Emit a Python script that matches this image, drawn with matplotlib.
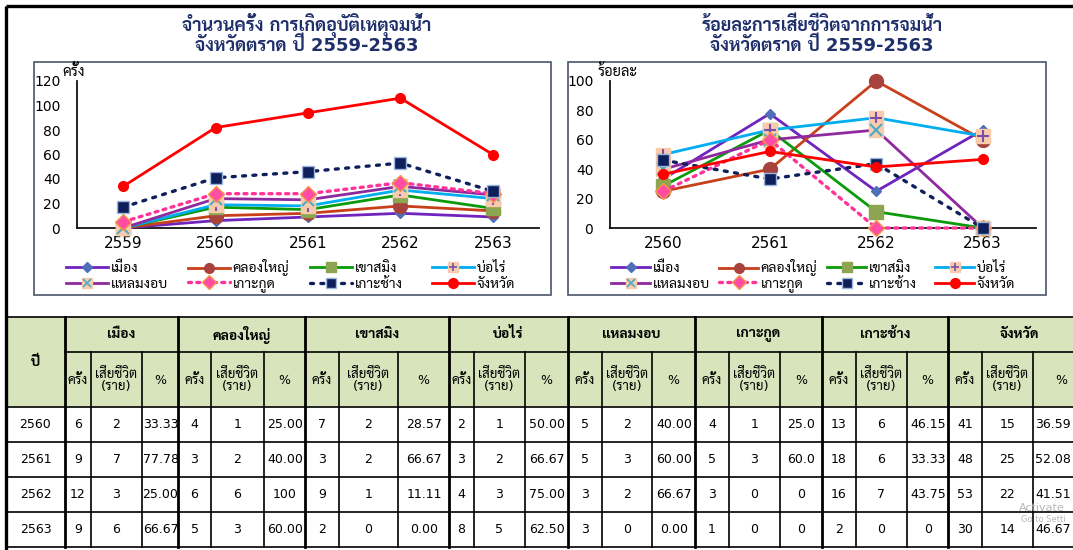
import matplotlib
matplotlib.use("Agg")
import matplotlib.pyplot as plt
from matplotlib import font_manager as fm
from matplotlib.lines import Line2D
from matplotlib.patches import Rectangle
from matplotlib.legend_handler import HandlerTuple
import numpy as np

# ---------------- data ----------------
years_chart1 = ["2559", "2560", "2561", "2562", "2563"]
years_chart2 = ["2560", "2561", "2562", "2563"]
districts = ["เมือง", "คลองใหญ่", "เขาสมิง", "บ่อไร่", "แหลมงอบ", "เกาะกูด", "เกาะช้าง"]
province = "จังหวัด"

# number of incidents per district, 2559-2563
cases_muang = [0, 6, 9, 12, 9]
cases_khlongyai = [0, 4, 3, 6, 5]
cases_khaosaming = [0, 7, 3, 9, 2]
cases_borai = [0, 2, 3, 4, 8]
cases_laemngop = [0, 5, 5, 3, 3]
cases_kohkood = [5, 4, 5, 3, 1]
cases_kohchang = [12, 13, 18, 16, 2]
cases_province = [17, 41, 48, 53, 30]

# deaths per district, 2560-2563
deaths_muang = [2, 7, 3, 6]
deaths_khlongyai = [1, 2, 6, 3]
deaths_khaosaming = [2, 2, 1, 0]
deaths_borai = [1, 2, 3, 5]
deaths_laemngop = [2, 3, 2, 0]
deaths_kohkood = [1, 3, 0, 0]
deaths_kohchang = [6, 6, 7, 0]
deaths_province = [15, 25, 22, 14]

# death percentage per district, 2560-2563 (as printed in the table)
pct_muang = ["33.33", "77.78", "25.00", "66.67"]
pct_khlongyai = ["25.00", "40.00", "100", "60.00"]
pct_khaosaming = ["28.57", "66.67", "11.11", "0.00"]
pct_borai = ["50.00", "66.67", "75.00", "62.50"]
pct_laemngop = ["40.00", "60.00", "66.67", "0.00"]
pct_kohkood = ["25.0", "60.0", "0", "0"]
pct_kohchang = ["46.15", "33.33", "43.75", "0"]
pct_province = ["36.59", "52.08", "41.51", "46.67"]

title1 = ["จำนวนครั้ง การเกิดอุบัติเหตุจมน้ำ", "จังหวัดตราด ปี 2559-2563"]
title2 = ["ร้อยละการเสียชีวิตจากการจมน้ำ", "จังหวัดตราด ปี 2559-2563"]
ylabel1 = "ครั้ง"
ylabel2 = "ร้อยละ"

# ---------------- fonts ----------------
bold_names = {f.name for f in fm.fontManager.ttflist
              if (f.weight if isinstance(f.weight, int) else 400) >= 600}
avail = {f.name for f in fm.fontManager.ttflist}
thai = None
for cand in ["Sarabun", "Noto Sans Thai Looped", "Noto Sans Thai", "Niramit", "Bai Jamjuree"]:
    if cand in avail and cand in bold_names:
        thai = cand
        break
if thai is None:
    for cand in ["Noto Sans Thai Looped", "Noto Sans Thai", "Sarabun"]:
        if cand in avail:
            thai = cand
            break
fams = ["DejaVu Sans"] + ([thai] if thai else [])
plt.rcParams["font.family"] = fams

W, H = 1073, 550
fig = plt.figure(figsize=(W / 100, H / 100), dpi=100)
fig.patch.set_facecolor("white")

def fx(x):
    return x / W

def fy(y):
    return 1 - y / H

bg = fig.add_axes([0, 0, 1, 1], zorder=0)
bg.set_xlim(0, W)
bg.set_ylim(H, 0)
bg.set_axis_off()

navy = "#1F2F6B"

# outer frame
bg.plot([6, W], [6, 6], color="black", lw=2.4, solid_capstyle="butt")
bg.plot([6, 6], [6, H], color="black", lw=2.4, solid_capstyle="butt")

# panel boxes
bg.add_patch(Rectangle((34, 62), 551 - 34, 295 - 62, fill=False, ec="#4A5568", lw=1.2))
bg.add_patch(Rectangle((568, 62), 1046 - 568, 295 - 62, fill=False, ec="#4A5568", lw=1.2))

# titles
tkw = dict(ha="center", va="center", fontweight="bold", color=navy, fontsize=13)
bg.text(307, 26, title1[0], **tkw)
bg.text(307, 46, title1[1], **tkw)
bg.text(822, 26, title2[0], **tkw)
bg.text(822, 46, title2[1], **tkw)

# ---------------- series styles ----------------
peach = "#F8CBAD"
styles = {
    "เมือง": dict(color="#7024BE", ls="-", marker="D", mfc="#4F6FB8", mec="#4F6FB8", ms=5),
    "คลองใหญ่": dict(color="#C8401A", ls="-", marker="o", mfc="#A8423C", mec="#A8423C", ms=10),
    "เขาสมิง": dict(color="#0A9A0A", ls="-", marker="s", mfc="#8CA550", mec="#8CA550", ms=10),
    "บ่อไร่": dict(color="#00AEEF", ls="-", marker="s", mfc=peach, mec=peach, ms=10,
                   over=dict(marker="+", color="#7A4FA8", ms=9, mew=1.5)),
    "แหลมงอบ": dict(color="#8E2A9E", ls="-", marker="s", mfc=peach, mec=peach, ms=10,
                    over=dict(marker="x", color="#4BACC6", ms=9, mew=1.5)),
    "เกาะกูด": dict(color="#FF3399", ls=(0, (0.9, 1.6)), marker="D", mfc="#FF4DA6", mec="#F79646", ms=8),
    "เกาะช้าง": dict(color="#0E1F5B", ls=(0, (0.9, 2.2)), marker="s", mfc="#0E1F5B", mec="#9DB6DC", ms=8),
    "จังหวัด": dict(color="#FF0000", ls="-", marker="o", mfc="#FF0000", mec="#FF0000", ms=7),
}

series_names = districts + [province]
cases_all = [cases_muang, cases_khlongyai, cases_khaosaming, cases_borai,
             cases_laemngop, cases_kohkood, cases_kohchang, cases_province]
pct_all = [pct_muang, pct_khlongyai, pct_khaosaming, pct_borai,
           pct_laemngop, pct_kohkood, pct_kohchang, pct_province]
deaths_all = [deaths_muang, deaths_khlongyai, deaths_khaosaming, deaths_borai,
              deaths_laemngop, deaths_kohkood, deaths_kohchang, deaths_province]


def draw_series(ax, x, y, st, z):
    lw = 2.0
    dot = not isinstance(st["ls"], str)
    ax.plot(x, y, color=st["color"], ls=st["ls"], lw=lw + (0.4 if dot else 0),
            dash_capstyle="round", solid_capstyle="round", zorder=z, clip_on=False)
    ax.plot(x, y, ls="none", marker=st["marker"], mfc=st["mfc"], mec=st["mec"],
            ms=st["ms"], mew=1.0, zorder=z + 0.5, clip_on=False)
    if "over" in st:
        o = st["over"]
        ax.plot(x, y, ls="none", marker=o["marker"], color=o["color"], ms=o["ms"],
                mew=o["mew"], zorder=z + 0.6, clip_on=False)


def style_axes(ax, ymax, ticks, xt):
    ax.set_facecolor("none")
    for s in ["top", "right"]:
        ax.spines[s].set_visible(False)
    for s in ["left", "bottom"]:
        ax.spines[s].set_color("#111111")
        ax.spines[s].set_linewidth(1.3)
    ax.set_ylim(0, ymax)
    ax.set_xlim(-0.5, len(xt) - 0.5)
    ax.set_yticks(ticks)
    ax.set_xticks(range(len(xt)))
    ax.set_xticklabels(xt)
    ax.tick_params(axis="y", length=0, pad=12, labelsize=10)
    ax.tick_params(axis="x", length=0, pad=6, labelsize=11)


# ---------------- left chart (stacked line) ----------------
ax1 = fig.add_axes([fx(77), fy(228), (539 - 77) / W, (228 - 81) / H], zorder=2)
cum = np.cumsum(np.array(cases_all[:-1], dtype=float), axis=0)
stacked = list(cum) + [cum[-1] + np.array(cases_province, dtype=float)]
x1 = np.arange(len(years_chart1))
for i, name in enumerate(series_names):
    draw_series(ax1, x1, stacked[i], styles[name], 3 + i)
style_axes(ax1, 120, range(0, 121, 20), years_chart1)
bg.text(62, 72, ylabel1, ha="left", va="center", fontsize=10.5)

# ---------------- right chart ----------------
ax2 = fig.add_axes([fx(610), fy(228), (1036 - 610) / W, (228 - 81) / H], zorder=2)
x2 = np.arange(len(years_chart2))
for i, name in enumerate(series_names):
    vals = [float(v) for v in pct_all[i]]
    draw_series(ax2, x2, vals, styles[name], 3 + i)
style_axes(ax2, 100, range(0, 101, 20), years_chart2)
bg.text(598, 71, ylabel2, ha="left", va="center", fontsize=10.5)


# ---------------- legends ----------------
def make_handle(st):
    dot = not isinstance(st["ls"], str)
    base = Line2D([], [], color=st["color"], ls=st["ls"], lw=2.0 + (0.4 if dot else 0),
                  marker=st["marker"], mfc=st["mfc"], mec=st["mec"],
                  ms=min(st["ms"], 7), dash_capstyle="round")
    if "over" in st:
        o = st["over"]
        top = Line2D([], [], ls="none", marker=o["marker"], color=o["color"], ms=6, mew=1.2)
        return (base, top)
    return base


leg_fs = 10
leg_px = leg_fs * 100 / 72
for (x0, dx, hl) in [(66, 122, 42), (611, 108, 39)]:
    for i, name in enumerate(series_names):
        col, row = i % 4, i // 4
        fig.legend([make_handle(styles[name])], [name], loc="center left",
                   bbox_to_anchor=(fx(x0 + col * dx), fy(268 + row * 16)),
                   frameon=False, fontsize=leg_fs, handlelength=hl / leg_px,
                   handletextpad=2.5 / leg_px, borderpad=0, borderaxespad=0,
                   handler_map={tuple: HandlerTuple(ndivide=1)})

# ---------------- table ----------------
col_x = [6, 65, 91, 142, 178, 211, 264, 305, 339, 398, 449, 474, 525,
         568, 602, 652, 695, 729, 780, 822, 856, 907, 948, 982, 1033, 1090]
row_y = [317, 352, 407, 442, 477, 512, 547]
hdr_green = "#D8E4BC"
bg.add_patch(Rectangle((col_x[0], row_y[0]), col_x[-1] - col_x[0], row_y[2] - row_y[0],
                       fc=hdr_green, ec="none", zorder=1))
lw_t = 1.2
bg.plot([col_x[0], col_x[-1]], [row_y[0]] * 2, color="black", lw=lw_t, zorder=2)
bg.plot([col_x[1], col_x[-1]], [row_y[1]] * 2, color="black", lw=lw_t, zorder=2)
for yy in row_y[2:]:
    bg.plot([col_x[0], col_x[-1]], [yy] * 2, color="black", lw=lw_t, zorder=2)
for j, xx in enumerate(col_x[:-1]):
    group_edge = (j - 1) % 3 == 0
    top = row_y[0] if group_edge else row_y[1]
    bg.plot([xx, xx], [top, row_y[-1]], color="black",
            lw=(2.0 if group_edge else lw_t), zorder=2)

bg.text((col_x[0] + col_x[1]) / 2, (row_y[0] + row_y[2]) / 2, "ปี", ha="center",
        va="center", fontsize=10, fontweight="bold")
sub_labels = ["ครั้ง", "เสียชีวิต\n(ราย)", "%"]
for g, name in enumerate(series_names):
    c0 = 1 + 3 * g
    bg.text((col_x[c0] + col_x[c0 + 3]) / 2, (row_y[0] + row_y[1]) / 2, name,
            ha="center", va="center", fontsize=10, fontweight="bold")
    for k, lab in enumerate(sub_labels):
        bg.text((col_x[c0 + k] + col_x[c0 + k + 1]) / 2, (row_y[1] + row_y[2]) / 2 + 1, lab,
                ha="center", va="center", fontsize=(9.5 if k < 2 else 9), linespacing=0.95)

for r, yr in enumerate(years_chart2):
    yc = (row_y[2 + r] + row_y[3 + r]) / 2
    bg.text((col_x[0] + col_x[1]) / 2, yc, yr, ha="center", va="center", fontsize=9)
    for g in range(len(series_names)):
        c0 = 1 + 3 * g
        bg.text((col_x[c0] + col_x[c0 + 1]) / 2, yc, str(cases_all[g][r + 1]),
                ha="center", va="center", fontsize=9)
        bg.text((col_x[c0 + 1] + col_x[c0 + 2]) / 2, yc, str(deaths_all[g][r]),
                ha="center", va="center", fontsize=9)
        if g == len(series_names) - 1:
            bg.text(col_x[c0 + 2] + 2, yc, pct_all[g][r], ha="left", va="center", fontsize=9)
        else:
            bg.text((col_x[c0 + 2] + col_x[c0 + 3]) / 2 + 0.5, yc, pct_all[g][r],
                    ha="center", va="center", fontsize=9)

# watermark
bg.text(1019, 508, "Activate", ha="left", va="center", fontsize=8, color="#B8B8B8", zorder=5)
bg.text(1021, 519, "Go to Setti", ha="left", va="center", fontsize=6, color="#B8B8B8", zorder=5)

fig.savefig("out.png", dpi=100)
